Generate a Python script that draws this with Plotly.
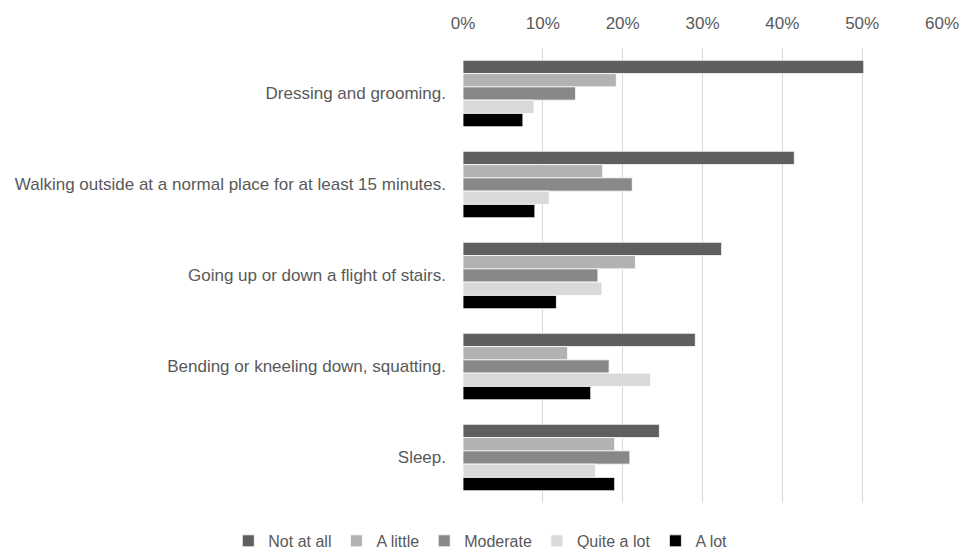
import plotly.graph_objects as go

categories = [
    "Dressing and grooming.",
    "Walking outside at a normal place for at least 15 minutes.",
    "Going up or down a flight of stairs.",
    "Bending or kneeling down, squatting.",
    "Sleep.",
]
series_names = ["Not at all", "A little", "Moderate", "Quite a lot", "A lot"]
not_at_all = [50.2, 41.5, 32.4, 29.1, 24.6]
a_little = [19.2, 17.5, 21.6, 13.1, 19.0]
moderate = [14.1, 21.2, 16.9, 18.3, 20.9]
quite_a_lot = [8.9, 10.8, 17.4, 23.5, 16.6]
a_lot = [7.5, 9.0, 11.7, 16.0, 19.0]
colors = ["#5f5f5f", "#b2b2b2", "#888888", "#d9d9d9", "#000000"]
tick_vals = [0, 10, 20, 30, 40, 50, 60]
tick_text = ["0%", "10%", "20%", "30%", "40%", "50%", "60%"]

series = [not_at_all, a_little, moderate, quite_a_lot, a_lot]

FONT = "Liberation Sans"
TXT = "#595959"
fig = go.Figure()
for name, vals, col in zip(series_names, series, colors):
    fig.add_trace(go.Bar(
        y=categories, x=vals, name=name, orientation="h",
        marker=dict(color=col, line=dict(color="#ffffff", width=0.8)),
    ))

fig.update_layout(
    width=959, height=549,
    margin=dict(l=463, r=17, t=48, b=46, autoexpand=False),
    barmode="group", bargap=0.27, bargroupgap=0,
    plot_bgcolor="white", paper_bgcolor="white",
    font=dict(family=FONT, size=17, color=TXT),
    legend=dict(orientation="h", xref="paper", yref="paper",
                x=-0.49, xanchor="left", y=-0.046, yanchor="top",
                font=dict(size=16, color=TXT), traceorder="normal",
                itemwidth=30, tracegroupgap=0),
    showlegend=True,
)
fig.update_xaxes(side="top", range=[0, 60], tickvals=tick_vals, ticktext=tick_text,
                 showgrid=True, gridcolor="#d9d9d9", gridwidth=1, zeroline=False,
                 showline=False, ticks="", ticklabelstandoff=15,
                 ticklabeloverflow="allow",
                 tickfont=dict(size=17, color=TXT))
fig.update_yaxes(autorange="reversed", showgrid=False, showline=False, ticks="",
                 ticklabelstandoff=16, tickfont=dict(size=17, color=TXT))

fig.write_html("out.html")
